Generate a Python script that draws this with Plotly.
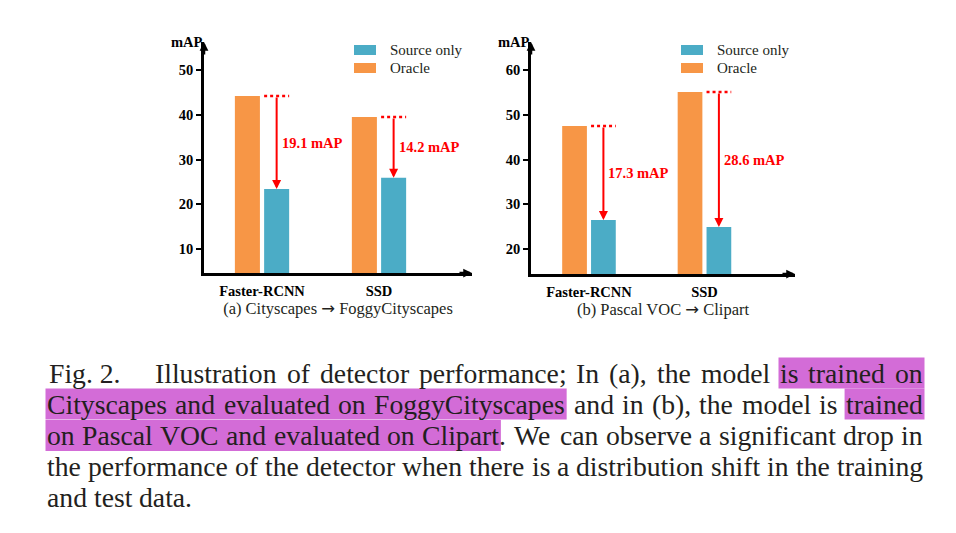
import plotly.graph_objects as go

W, H = 956, 533

# ---------------- data ----------------
categories = ["Faster-RCNN", "SSD"]
legend_names = ["Source only", "Oracle"]

city_oracle = [44.2, 39.5]
city_source = [23.4, 25.9]
city_drop = [19.1, 14.2]
city_ticks = [10, 20, 30, 40, 50]

voc_oracle = [47.5, 55.1]
voc_source = [26.5, 24.9]
voc_drop = [17.3, 28.6]
voc_ticks = [20, 30, 40, 50, 60]

ARROW = '<span style="font-family:DejaVu Sans">\u2192</span>'
subcaptions = ["(a) Cityscapes " + ARROW + " FoggyCityscapes", "(b) Pascal VOC " + ARROW + " Clipart"]
y_label = "mAP"

# caption text; segments wrapped in [[...]] are highlighted
caption_lines = [
    "Illustration of detector performance; In (a), the model [[is trained on]]",
    "[[Cityscapes and evaluated on FoggyCityscapes]] and in (b), the model is [[trained]]",
    "[[on Pascal VOC and evaluated on Clipart]]. We can observe a significant drop in",
    "the performance of the detector when there is a distribution shift in the training",
    "and test data.",
]
caption_label = "Fig. 2."

# ---------------- style ----------------
ORANGE = "#F79646"
BLUE = "#4BACC6"
RED = "#FF0000"
HIL = "#D36CD7"
TXT = "#231F20"
SERIF = "Liberation Serif"

BAR_W = 0.214
OR_OFF = -0.232
SRC_OFF = 0.018


def px(x):
    return x / W


def py(y):
    return 1 - y / H


panels = [
    dict(ax="", oracle=city_oracle, source=city_source, drop=city_drop, ticks=city_ticks,
         xdom=(204, 472), ydom=(273, 42), xr=(-0.496, 1.795), yr=(4.637, 56.26),
         cap=subcaptions[0]),
    dict(ax="2", oracle=voc_oracle, source=voc_source, drop=voc_drop, ticks=voc_ticks,
         xdom=(531, 795), ydom=(274, 42), xr=(-0.502, 1.784), yr=(14.41, 66.26),
         cap=subcaptions[1]),
]

fig = go.Figure()
shapes = []
annotations = []
layout_axes = {}

pos = list(range(len(categories)))

for p in panels:
    xa = "x" + p["ax"]
    ya = "y" + p["ax"]
    fig.add_trace(go.Bar(x=pos, y=p["oracle"], width=BAR_W, offset=OR_OFF,
                         marker=dict(color=ORANGE, line=dict(width=0)),
                         name=legend_names[1], xaxis=xa, yaxis=ya, showlegend=False))
    fig.add_trace(go.Bar(x=pos, y=p["source"], width=BAR_W, offset=SRC_OFF,
                         marker=dict(color=BLUE, line=dict(width=0)),
                         name=legend_names[0], xaxis=xa, yaxis=ya, showlegend=False))

    layout_axes["xaxis" + p["ax"]] = dict(
        domain=[px(p["xdom"][0]), px(p["xdom"][1])], range=list(p["xr"]),
        anchor=ya, tickvals=pos, ticktext=categories,
        showline=True, linewidth=2.5, linecolor="black",
        ticks="outside", ticklen=3, tickcolor="rgba(0,0,0,0)",
        showgrid=False, zeroline=False,
        tickfont=dict(family=SERIF, size=14.5, color="black", weight="bold"),
        title=dict(text=p["cap"], font=dict(family=SERIF, size=16.5, color=TXT), standoff=5),
    )
    layout_axes["yaxis" + p["ax"]] = dict(
        domain=[py(p["ydom"][0]), py(p["ydom"][1])], range=list(p["yr"]),
        anchor=xa, tickvals=p["ticks"],
        showline=True, linewidth=2.5, linecolor="black",
        ticks="outside", ticklen=5, tickwidth=2, tickcolor="black",
        showgrid=False, zeroline=False,
        tickfont=dict(family=SERIF, size=14.5, color="black", weight="bold"),
    )

    # axis arrowheads
    annotations.append(dict(xref=xa + " domain", yref=ya + " domain", x=0, y=1,
                            ax=0, ay=14, text="", showarrow=True, arrowhead=2,
                            arrowsize=0.7, arrowwidth=2.5, arrowcolor="black"))
    annotations.append(dict(xref=xa + " domain", yref=ya + " domain", x=1, y=0,
                            ax=-14, ay=0, text="", showarrow=True, arrowhead=2,
                            arrowsize=0.7, arrowwidth=2.5, arrowcolor="black"))
    # y label
    annotations.append(dict(xref=xa + " domain", yref=ya + " domain", x=0, y=1,
                            xanchor="right", yanchor="middle", xshift=1, yshift=0,
                            text=y_label, showarrow=False,
                            font=dict(family=SERIF, size=14.5, color="black", weight="bold")))

    # drops: dotted line + arrow + label
    for i in pos:
        o, s = p["oracle"][i], p["source"][i]
        shapes.append(dict(type="line", xref=xa, yref=ya,
                           x0=i + SRC_OFF, x1=i + SRC_OFF + BAR_W, y0=o, y1=o,
                           line=dict(color=RED, width=2.5, dash="dot")))
        xc = i + SRC_OFF + BAR_W / 2
        annotations.append(dict(xref=xa, yref=ya, x=xc, y=s, axref=xa, ayref=ya,
                                ax=xc, ay=o, text="", showarrow=True, arrowhead=2,
                                arrowsize=0.9, arrowwidth=2, arrowcolor=RED))
        annotations.append(dict(xref=xa, yref=ya, x=xc, y=(o + s) / 2,
                                xanchor="left", yanchor="middle", xshift=3,
                                text=f"{p['drop'][i]:.1f} mAP", showarrow=False,
                                font=dict(family=SERIF, size=14.5, color=RED, weight="bold")))

    # legend (manual)
    lx = p["xdom"][0] + 150
    for k, (name, col) in enumerate(zip(legend_names, [BLUE, ORANGE])):
        y0 = 45 + 18 * k
        shapes.append(dict(type="rect", xref="paper", yref="paper",
                           x0=px(lx), x1=px(lx + 22), y0=py(y0), y1=py(y0 + 10),
                           fillcolor=col, line=dict(width=0)))
        annotations.append(dict(xref="paper", yref="paper", x=px(lx + 34), y=py(y0 + 5),
                                xanchor="left", yanchor="middle", text=name, showarrow=False,
                                font=dict(family=SERIF, size=15, color=TXT)))

# ---------------- caption (justified, word by word) ----------------
CAP = 27.7
TIMES = {
    " ": 250, "(": 333, ")": 333, ",": 250, "-": 333, ".": 250, ";": 278,
    "0": 500, "1": 500, "2": 500, "3": 500, "4": 500, "5": 500, "6": 500, "7": 500, "8": 500, "9": 500,
    "A": 722, "B": 667, "C": 667, "D": 722, "E": 611, "F": 556, "G": 722, "H": 722, "I": 333,
    "J": 389, "K": 722, "L": 611, "M": 889, "N": 722, "O": 722, "P": 556, "Q": 722, "R": 667,
    "S": 556, "T": 611, "U": 722, "V": 722, "W": 944, "X": 722, "Y": 722, "Z": 611,
    "a": 444, "b": 500, "c": 444, "d": 500, "e": 444, "f": 333, "g": 500, "h": 500, "i": 278,
    "j": 278, "k": 500, "l": 278, "m": 778, "n": 500, "o": 500, "p": 500, "q": 500, "r": 333,
    "s": 389, "t": 278, "u": 500, "v": 500, "w": 722, "x": 500, "y": 500, "z": 444,
}


def tw(s):
    return sum(TIMES.get(c, 500) for c in s) * CAP / 1000.0


def parse(line):
    # returns list of words; each word = list of (text, highlighted)
    segs = []
    hl = False
    buf = ""
    i = 0
    while i < len(line):
        if line.startswith("[[", i) or line.startswith("]]", i):
            if buf:
                segs.append((buf, hl))
            buf = ""
            hl = line.startswith("[[", i)
            i += 2
            continue
        buf += line[i]
        i += 1
    if buf:
        segs.append((buf, hl))
    words = []
    cur = []
    for text, h in segs:
        parts = text.split(" ")
        for j, part in enumerate(parts):
            if j > 0:
                if cur:
                    words.append(cur)
                cur = []
            if part:
                cur.append((part, h))
    if cur:
        words.append(cur)
    return words


LEFT, RIGHT, TEXT_L = 47, 923, 155
line_y = [373, 404, 435.5, 466, 497]
HL_HALF = 15.5

annotations.append(dict(xref="paper", yref="paper", x=px(LEFT), y=py(line_y[0]),
                        xanchor="left", yanchor="middle", text=caption_label, showarrow=False,
                        font=dict(family=SERIF, size=CAP, color=TXT)))

for li, line in enumerate(caption_lines):
    words = parse(line)
    x_start = TEXT_L if li == 0 else LEFT
    widths = [sum(tw(t) for t, _ in w) for w in words]
    justify = li < len(caption_lines) - 1
    if justify and len(words) > 1:
        gap = (RIGHT - x_start - sum(widths)) / (len(words) - 1)
    else:
        gap = tw(" ")
    yc = line_y[li]
    x = x_start
    runs = []  # highlighted runs [x0, x1]
    prev_hl = False
    for w, wd in zip(words, widths):
        sx = x
        for t, h in w:
            if h:
                if prev_hl and runs:
                    runs[-1][1] = sx + tw(t)
                else:
                    runs.append([sx, sx + tw(t)])
            prev_hl = h
            annotations.append(dict(xref="paper", yref="paper", x=px(sx), y=py(yc),
                                    xanchor="left", yanchor="middle", text=t, showarrow=False,
                                    borderpad=0, borderwidth=0,
                                    font=dict(family=SERIF, size=CAP, color=TXT)))
            sx += tw(t)
        x += wd + gap
    for x0, x1 in runs:
        shapes.append(dict(type="rect", xref="paper", yref="paper", layer="below",
                           x0=px(x0 - 1.5), x1=px(x1 + 1.5),
                           y0=py(yc + HL_HALF), y1=py(yc - HL_HALF),
                           fillcolor=HIL, line=dict(width=0)))

fig.update_layout(
    width=W, height=H, margin=dict(l=0, r=0, t=0, b=0, pad=0),
    paper_bgcolor="white", plot_bgcolor="white",
    barmode="overlay", showlegend=False,
    shapes=shapes, annotations=annotations,
    **layout_axes,
)

fig.write_html("out.html")
